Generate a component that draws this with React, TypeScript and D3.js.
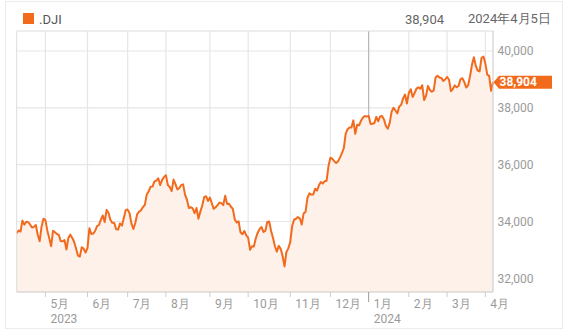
import React from "react";
import * as d3 from "d3";

const seriesName = ".DJI";
const lastLabel = "38,904";
const dateLabel = "2024年4月5日";

// Daily closes, 2023-04-10 .. 2024-04-05 (trading days)
const closes: number[] = [
  // Apr 2023
  33587, 33685, 33647, 34030, 33887, 33988, 33977, 33897, 33787, 33809, 33876, 33531, 33302, 33826, 34098,
  // May
  34051, 33685, 33414, 33128, 33675, 33619, 33562, 33531, 33309, 33301, 33348, 33012, 33420, 33536, 33427, 33286, 33056, 32800, 32765, 33093, 33043, 32908,
  // Jun
  33061, 33763, 33563, 33573, 33665, 33834, 33877, 34067, 34212, 33979, 34408, 34299, 34054, 33952, 33947, 33727, 33714, 33927, 33853, 34122, 34408,
  // Jul
  34418, 34288, 33922, 33734, 33944, 34262, 34347, 34395, 34509, 34585, 34952, 35061, 35225, 35228, 35411, 35438, 35520, 35282, 35459, 35560,
  // Aug
  35630, 35283, 35216, 35066, 35474, 35314, 35124, 35176, 35281, 35308, 34946, 34766, 34475, 34501, 34464, 34289, 34473, 34100, 34347, 34560, 34853, 34890, 34722,
  // Sep
  34838, 34642, 34444, 34501, 34577, 34664, 34646, 34576, 34908, 34619, 34624, 34518, 34441, 34070, 33964, 34007, 33619, 33551, 33667, 33508,
  // Oct
  33433, 33003, 33130, 33120, 33408, 33605, 33740, 33805, 33631, 33670, 33985, 33998, 33665, 33415, 33128, 32937, 33141, 33036, 32785, 32418, 32929, 33053,
  // Nov
  33275, 33839, 34061, 34096, 34153, 34112, 33892, 34283, 34337, 34828, 34991, 34945, 34947, 35151, 35088, 35273, 35390, 35334, 35417, 35430, 35951,
  // Dec
  36246, 36204, 36125, 36054, 36117, 36248, 36405, 36577, 37090, 37248, 37306, 37306, 37558, 37083, 37405, 37386, 37545, 37657, 37710, 37690,
  // Jan 2024
  37715, 37430, 37440, 37466, 37683, 37525, 37696, 37711, 37593, 37361, 37267, 37469, 37864, 38001, 37905, 37806, 38050, 38109, 38333, 38467, 38150,
  // Feb
  38520, 38654, 38380, 38521, 38677, 38726, 38671, 38797, 38273, 38424, 38773, 38628, 38564, 38612, 39069, 39131, 39069, 39053, 38949, 38996,
  // Mar
  39087, 38990, 38585, 38661, 38791, 38723, 38770, 39005, 39043, 38906, 38715, 38790, 39111, 39512, 39781, 39476, 39313, 39282, 39760, 39807,
  // Apr
  39567, 39170, 39127, 38597, 38904,
];

const monthLabels = ["5月", "6月", "7月", "8月", "9月", "10月", "11月", "12月", "1月", "2月", "3月", "4月"];
const monthStartIdx = [15, 37, 58, 78, 101, 121, 143, 164, 184, 205, 225, 245];
const yearLabels = ["2023", "2024"];
const yearStartIdx = [15, 184];
const yTicks = [32000, 34000, 36000, 38000, 40000];

const W = 567;
const H = 331;
const plotL = 16.7;
const plotR = 493;
const plotT = 31;
const plotB = 292;

const ORANGE = "#f26b1d";
const FILL = "#fdf1ea";
const FONT = "Roboto, 'Noto Sans', sans-serif";

export default function App() {
  const x = d3.scaleLinear().domain([0, closes.length - 1]).range([plotL, plotR]);
  const y = d3.scaleLinear().domain([32000, 40000]).range([278.3, 51]);
  const fmt = d3.format(",");

  const line = d3
    .line<number>()
    .x((_, i) => x(i))
    .y((d) => y(d));
  const area = d3
    .area<number>()
    .x((_, i) => x(i))
    .y0(plotB)
    .y1((d) => y(d));

  const last = closes[closes.length - 1];
  const lastY = y(last);

  return (
    <svg
      width={W}
      height={H}
      style={{ position: "absolute", left: 0, top: 0, background: "#fff" }}
      fontFamily={FONT}
    >
      <rect x={5.5} y={1.5} width={557} height={327} fill="#fff" stroke="#ececec" />

      {/* header */}
      <rect x={23} y={13} width={11} height={11} fill={ORANGE} />
      <text x={39} y={23.5} fontSize={13} fill="#555">{seriesName}</text>
      <text x={444} y={23.5} fontSize={13} fill="#666" textAnchor="end">{lastLabel}</text>
      <text x={468} y={22.5} fontSize={13} fill="#666">{dateLabel}</text>

      {/* grid */}
      {yTicks.map((t) => (
        <line key={"h" + t} x1={plotL} x2={plotR} y1={y(t)} y2={y(t)} stroke="#e6e6e6" strokeWidth={1.2} />
      ))}
      {monthStartIdx.map((m, i) => (
        <line
          key={"v" + i}
          x1={x(m)}
          x2={x(m)}
          y1={plotT}
          y2={plotB}
          stroke={yearStartIdx.includes(m) && i > 0 ? "#b5b5b5" : "#e6e6e6"}
          strokeWidth={1.2}
        />
      ))}

      {/* area & line */}
      <path d={area(closes) ?? ""} fill={FILL} />
      <path d={line(closes) ?? ""} fill="none" stroke={ORANGE} strokeWidth={2} strokeLinejoin="round" />

      {/* plot frame */}
      <line x1={plotL} x2={plotR} y1={plotT} y2={plotT} stroke="#dddddd" />
      <line x1={plotL} x2={plotL} y1={plotT} y2={plotB} stroke="#dddddd" />
      <line x1={plotR} x2={plotR} y1={plotT} y2={plotB} stroke="#c8c8c8" />
      <line x1={plotL} x2={plotR} y1={plotB} y2={plotB} stroke="#c8c8c8" />

      {/* x ticks & labels */}
      {monthStartIdx.map((m, i) => {
        const isYear = yearStartIdx.includes(m) && i > 0;
        return (
          <g key={"t" + i}>
            <line x1={x(m)} x2={x(m)} y1={plotB} y2={isYear ? 302 : 297} stroke={isYear ? "#999" : "#cccccc"} />
            <text x={x(m) + 5} y={307.5} fontSize={12} fill="#9a9a9a">{monthLabels[i]}</text>
          </g>
        );
      })}
      {yearStartIdx.map((m, i) => (
        <text key={"y" + i} x={x(m) + 5} y={323} fontSize={12} fill="#9a9a9a">{yearLabels[i]}</text>
      ))}

      {/* y labels */}
      {yTicks.map((t) => (
        <text key={"yl" + t} x={497.5} y={y(t) + 4.3} fontSize={12} fill="#9a9a9a">{fmt(t)}</text>
      ))}

      {/* last value tag */}
      <path
        d={`M${plotR + 0.5},${lastY} L${plotR + 6},${lastY - 6.5} L${552},${lastY - 6.5} L${552},${lastY + 6.5} L${plotR + 6},${lastY + 6.5} Z`}
        fill={ORANGE}
      />
      <text x={499.5} y={lastY + 4.3} fontSize={12} fontWeight={700} fill="#fff">{fmt(last)}</text>
    </svg>
  );
}
